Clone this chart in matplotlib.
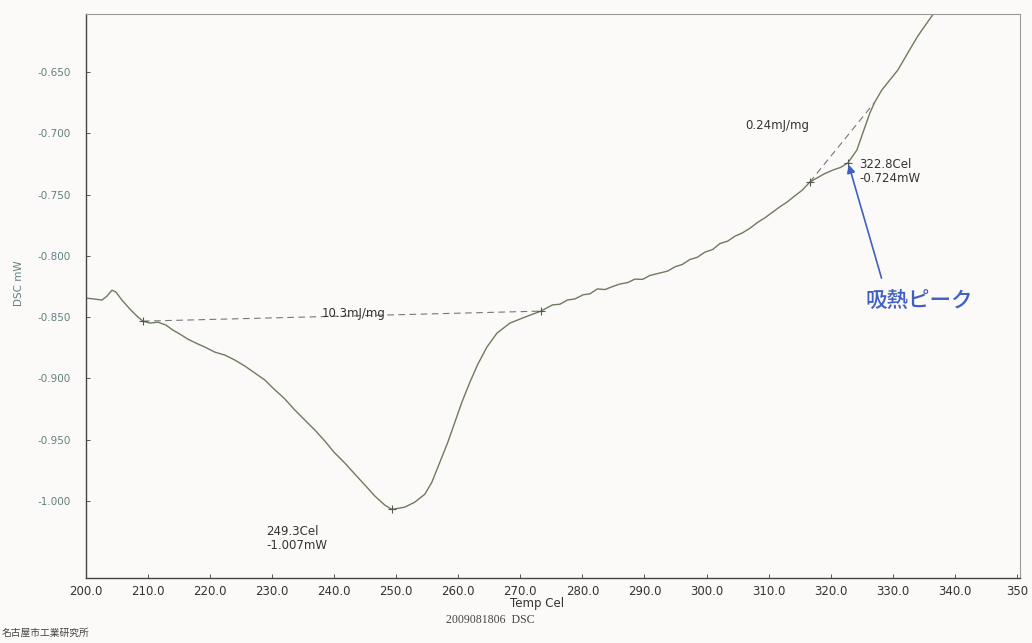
import matplotlib
matplotlib.use("Agg")
import matplotlib.pyplot as plt

# DSC trace
temp = [200.0, 201.45, 202.58, 203.38, 204.19, 204.83, 205.80, 207.09, 208.22, 209.18,
        210.31, 211.60, 212.89, 214.02, 215.14, 216.43, 217.72, 219.17, 220.78, 222.39,
        224.01, 225.62, 227.23, 228.84, 229.97, 232.06, 233.67, 235.28, 236.89, 238.50,
        239.96, 241.73, 243.34, 244.95, 246.56, 248.17, 249.30, 251.39, 253.00, 254.62,
        255.74, 257.03, 258.32, 259.45, 260.58, 261.87, 263.15, 264.60, 266.22, 268.31,
        270.73, 273.30, 275.20, 276.37, 277.60, 278.78, 280.10, 281.20, 282.40, 283.62,
        285.00, 286.03, 287.30, 288.45, 289.70, 290.87, 292.48, 293.70, 294.90, 296.10,
        297.31, 298.50, 299.73, 301.00, 302.14, 303.40, 304.56, 305.80, 306.98, 308.20,
        309.39, 310.60, 311.81, 313.00, 314.23, 315.40, 316.64, 317.77, 319.00, 320.35,
        321.60, 322.80, 324.22, 325.18, 326.31, 327.11, 328.24, 329.53, 330.82, 331.95,
        333.08, 334.04, 335.17, 336.30, 337.27]
dsc = [-0.8345, -0.8353, -0.8361, -0.8329, -0.8280, -0.8296, -0.8361, -0.8435, -0.8492, -0.8533,
       -0.8549, -0.8541, -0.8565, -0.8606, -0.8639, -0.8680, -0.8712, -0.8745, -0.8786, -0.8810,
       -0.8851, -0.8900, -0.8957, -0.9014, -0.9071, -0.9169, -0.9259, -0.9341, -0.9422, -0.9512,
       -0.9602, -0.9692, -0.9782, -0.9871, -0.9961, -1.0035, -1.0070, -1.0051, -1.0010, -0.9945,
       -0.9847, -0.9684, -0.9520, -0.9357, -0.9194, -0.9031, -0.8884, -0.8745, -0.8631, -0.8549,
       -0.8500, -0.8451, -0.8400, -0.8395, -0.8360, -0.8352, -0.8318, -0.8310, -0.8270, -0.8275,
       -0.8248, -0.8230, -0.8218, -0.8190, -0.8192, -0.8160, -0.8140, -0.8125, -0.8090, -0.8070,
       -0.8030, -0.8012, -0.7970, -0.7948, -0.7900, -0.7880, -0.7840, -0.7812, -0.7775, -0.7728,
       -0.7690, -0.7645, -0.7600, -0.7560, -0.7510, -0.7465, -0.7398, -0.7365, -0.7330, -0.7300,
       -0.7278, -0.7240, -0.7137, -0.6998, -0.6835, -0.6745, -0.6647, -0.6565, -0.6484, -0.6386,
       -0.6288, -0.6206, -0.6124, -0.6043, -0.5978]

# analysis marks
base1_t = [209.18, 273.30]
base1_v = [-0.8533, -0.8451]
base2_t = [316.64, 327.11]
base2_v = [-0.7398, -0.6745]
marks_t = [209.18, 273.30, 249.30, 316.64, 322.80]
marks_v = [-0.8533, -0.8451, -1.0070, -0.7398, -0.7240]

xticks = [200, 210, 220, 230, 240, 250, 260, 270, 280, 290, 300, 310, 320, 330, 340, 350]
xlabels = ["200.0", "210.0", "220.0", "230.0", "240.0", "250.0", "260.0", "270.0", "280.0",
           "290.0", "300.0", "310.0", "320.0", "330.0", "340.0", "350"]
yticks = [-1.000, -0.950, -0.900, -0.850, -0.800, -0.750, -0.700, -0.650]
ylabels = ["-1.000", "-0.950", "-0.900", "-0.850", "-0.800", "-0.750", "-0.700", "-0.650"]

bg = "#fcfaf8"
fig = plt.figure(figsize=(10.32, 6.43), dpi=100, facecolor=bg)
ax = fig.add_axes([0.0833, 0.101, 0.905, 0.877])
ax.set_facecolor(bg)

ax.plot(temp, dsc, color="#6e7b5e", lw=1.0)
ax.plot(base1_t, base1_v, color="#777777", lw=0.8, ls=(0, (6, 4)))
ax.plot(base2_t, base2_v, color="#777777", lw=0.8, ls=(0, (6, 4)))
ax.plot(marks_t, marks_v, "+", color="#555555", ms=6, mew=0.8)

ax.set_xlim(200, 350.5)
ax.set_ylim(-1.063, -0.6027)
ax.set_xticks(xticks)
ax.set_xticklabels(xlabels, fontsize=8.5, color="#333333",
                   family=["Liberation Sans Narrow", "DejaVu Sans"])
ax.set_yticks(yticks)
ax.set_yticklabels(ylabels, fontsize=7.5, color="#5f8080")
ax.tick_params(axis="both", direction="in", length=3, width=0.7, colors="#555555")
ax.tick_params(axis="x", pad=5, labelcolor="#333333")
ax.tick_params(axis="y", pad=11, labelcolor="#5f8080")

for s in ["left", "bottom"]:
    ax.spines[s].set_color("#444444")
    ax.spines[s].set_linewidth(1.0)
for s in ["top", "right"]:
    ax.spines[s].set_color("#9a9a9a")
    ax.spines[s].set_linewidth(0.8)
    ax.spines[s].set_linestyle((0, (4, 1)))

txt = dict(fontsize=8.5, color="#333333")
ax.text(238.0, -0.8525, "10.3mJ/mg", ha="left", va="bottom", **txt)
ax.text(229.0, -1.020, "249.3Cel\n-1.007mW", ha="left", va="top", linespacing=1.05, **txt)
ax.text(306.2, -0.6935, "0.24mJ/mg", ha="left", va="center", **txt)
ax.text(324.6, -0.7205, "322.8Cel\n-0.724mW", ha="left", va="top", linespacing=1.05, **txt)

blue = "#3f5fc4"
ax.annotate("", xy=(322.9, -0.7255), xytext=(328.2, -0.8182),
            arrowprops=dict(arrowstyle="-|>", color=blue, lw=1.2,
                            shrinkA=0, shrinkB=0, mutation_scale=12))
ax.text(334.2, -0.8365, "吸熱ピーク", fontsize=15.5, color=blue, ha="center", va="center",
        family=["Noto Sans CJK JP", "DejaVu Sans"], fontweight="medium")

fig.text(0.018, 0.56, "DSC mW", rotation=90, ha="center", va="center",
         fontsize=7.5, color="#5f8080")
fig.text(0.52, 0.062, "Temp Cel", ha="center", va="center", fontsize=8.5, color="#333333",
         family=["Liberation Sans Narrow", "DejaVu Sans"])
fig.text(0.475, 0.036, "2009081806  DSC", ha="center", va="center", fontsize=8.5,
         color="#444444", family=["Liberation Serif", "DejaVu Serif"])
fig.text(0.002, 0.016, "名古屋市工業研究所", ha="left", va="center", fontsize=7,
         color="#444444", family=["Noto Sans CJK JP", "DejaVu Sans"])

fig.savefig("out.png", dpi=100, facecolor=bg)
